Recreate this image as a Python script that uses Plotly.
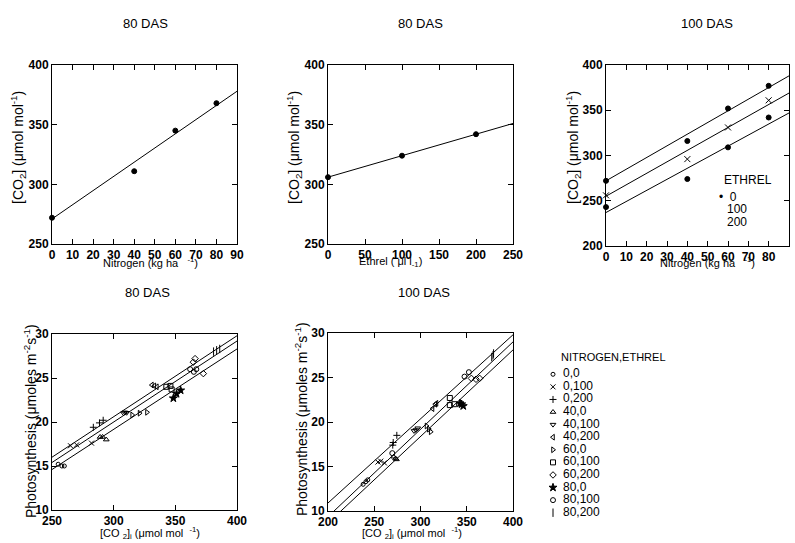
import plotly.graph_objects as go

W, H = 795, 543

# ---------------- data ----------------
# Panel 1: 80 DAS, [CO2] vs nitrogen
nitrogen_levels = [0, 40, 60, 80]
co2_n_80das = [272, 311, 345, 368]
fit1_x = [0, 90]
fit1_y = [271, 378]

# Panel 2: 80 DAS, [CO2] vs ethrel
ethrel_levels = [0, 100, 200]
co2_e_80das = [306, 324, 342]
fit2_x = [0, 250]
fit2_y = [306, 351]

# Panel 3: 100 DAS, [CO2] vs nitrogen for three ethrel levels
co2_e200_100das = [272, 316, 352, 377]
co2_e100_100das = [256, 296, 331, 361]
co2_e0_100das = [243, 274, 309, 342]
fit3_x = [0, 90]
fit3_top = [272, 388]
fit3_mid = [255, 369]
fit3_low = [237, 347]

# Bottom panels: photosynthesis vs [CO2]i, per nitrogen,ethrel treatment
treatments = ["0,0", "0,100", "0,200", "40,0", "40,100", "40,200",
              "60,0", "60,100", "60,200", "80,0", "80,100", "80,200"]
symbols = ["circle-open", "x-thin-open", "cross-thin-open", "triangle-up-open",
           "triangle-down-open", "triangle-left-open", "triangle-right-open",
           "square-open", "diamond-open", "star", "circle-open", "line-ns-open"]
sym_sizes = [4, 5, 5, 5, 5, 5, 5, 5, 5, 6, 5, 6]

ci_80 = [[255, 258, 260], [265, 270, 282], [283.5, 288.5, 291.5],
         [289, 291, 294], [308, 310.5, 309], [331, 333, 335],
         [315, 321, 327], [342.7, 346, 347], [364.6, 366, 372.7],
         [348.4, 351, 354.3], [362, 365, 367], [381, 383.5, 386]]
ps_80 = [[15.2, 15.0, 15.0], [17.3, 17.4, 17.6], [19.4, 19.9, 20.2],
         [18.3, 18.3, 18.0], [21.0, 21.05, 21.1], [24.2, 24.1, 24.0],
         [20.8, 21.0, 21.1], [24.0, 24.1, 23.7], [26.8, 27.2, 25.5],
         [22.7, 23.2, 23.6], [26.0, 25.7, 26.0], [28.0, 28.15, 28.3]]
fit4_x = [250, 400]
fit4_top = [16.0, 29.8]
fit4_mid = [15.4, 29.2]
fit4_low = [14.6, 28.3]

ci_100 = [[238, 241, 243], [254, 257, 261], [270, 270.5, 274.4],
          [271, 273, 274], [293, 295, 297], [313, 316, 317.3],
          [306.5, 309, 311], [331.7, 331.7, 336.4], [355, 360, 364],
          [342.7, 344.5, 346.2], [347.6, 352.3, 269.5], [377, 378.4, 379]]
ps_100 = [[13.0, 13.3, 13.5], [15.5, 15.6, 15.4], [17.4, 17.7, 18.5],
          [16.1, 15.9, 15.8], [19.0, 19.1, 19.3], [21.5, 22.0, 22.1],
          [19.55, 19.2, 18.9], [22.7, 21.9, 22.0], [24.9, 24.8, 24.9],
          [22.1, 22.0, 21.8], [25.1, 25.6, 16.5], [27.3, 27.5, 27.7]]
fit5_x = [200, 400]
fit5_top = [10.9, 29.8]
fit5_mid = [9.36, 29.0]
fit5_low = [8.64, 28.1]


# ---------------- helpers ----------------
def px_x(p):
    return p / W


def px_y(p):
    return 1 - p / H


fig = go.Figure()

line_style = dict(color="black", width=1)


def add_line(x, y, ax):
    fig.add_trace(go.Scatter(x=x, y=y, mode="lines", line=line_style,
                             xaxis="x" + ax, yaxis="y" + ax,
                             showlegend=False, hoverinfo="skip"))


def add_pts(x, y, ax, symbol="circle", size=5):
    fig.add_trace(go.Scatter(x=x, y=y, mode="markers",
                             marker=dict(symbol=symbol, size=size, color="black",
                                         line=dict(color="black", width=1)),
                             xaxis="x" + ax, yaxis="y" + ax, cliponaxis=False,
                             showlegend=False))


# panel 1
add_line(fit1_x, fit1_y, "")
add_pts(nitrogen_levels, co2_n_80das, "")
# panel 2
add_line(fit2_x, fit2_y, "2")
add_pts(ethrel_levels, co2_e_80das, "2")
# panel 3
for fy in (fit3_top, fit3_mid, fit3_low):
    add_line(fit3_x, fy, "3")
add_pts(nitrogen_levels, co2_e200_100das, "3")
add_pts(nitrogen_levels, co2_e100_100das, "3", symbol="x-thin-open", size=6)
add_pts(nitrogen_levels, co2_e0_100das, "3")
# panel 4
for fy in (fit4_top, fit4_mid, fit4_low):
    add_line(fit4_x, fy, "4")
for i in range(len(treatments)):
    add_pts(ci_80[i], ps_80[i], "4", symbol=symbols[i], size=sym_sizes[i])
# panel 5
for fy in (fit5_top, fit5_mid, fit5_low):
    add_line(fit5_x, fy, "5")
for i in range(len(treatments)):
    add_pts(ci_100[i], ps_100[i], "5", symbol=symbols[i], size=sym_sizes[i])

# legend panel (axis 6): one row per treatment
rows = list(range(len(treatments)))
for i in rows:
    fig.add_trace(go.Scatter(x=[0], y=[i], mode="markers",
                             marker=dict(symbol=symbols[i], size=sym_sizes[i], color="black",
                                         line=dict(color="black", width=1)),
                             xaxis="x6", yaxis="y6", cliponaxis=False, showlegend=False))
fig.add_trace(go.Scatter(x=[2] * len(rows), y=rows, mode="text", text=treatments,
                         textposition="middle right",
                         textfont=dict(family="Liberation Sans, Arial", size=12, color="black"),
                         xaxis="x6", yaxis="y6", cliponaxis=False, showlegend=False))

# ---------------- axes ----------------
tickfont = dict(family="Liberation Sans, Arial", size=12, color="black", weight="bold")


def axis(dom, rng, dtick, anchor):
    return dict(domain=dom, range=rng, dtick=dtick, tick0=rng[0], anchor=anchor,
                automargin=False,
                showgrid=False, zeroline=False, showline=True, linecolor="black",
                linewidth=1, mirror="ticks", ticks="inside", ticklen=5,
                tickwidth=1, tickcolor="black", tickfont=tickfont)


xd1 = [px_x(52), px_x(237)]
xd2 = [px_x(328), px_x(513)]
xd3 = [px_x(606), px_x(789)]
yd_top = [px_y(244), px_y(65)]
yd3 = [px_y(246), px_y(65)]
yd4 = [px_y(510), px_y(334)]
yd5 = [px_y(511), px_y(333)]

layout = dict(
    width=W, height=H, margin=dict(l=0, r=0, t=0, b=0, autoexpand=False),
    paper_bgcolor="white", plot_bgcolor="white", showlegend=False,
    font=dict(family="Liberation Sans, Arial", size=12, color="black"),
    xaxis=axis(xd1, [0, 90], 10, "y"),
    yaxis=axis(yd_top, [250, 400], 50, "x"),
    xaxis2=axis(xd2, [0, 250], 50, "y2"),
    yaxis2=axis(yd_top, [250, 400], 50, "x2"),
    xaxis3=axis(xd3, [0, 90], 10, "y3"),
    yaxis3=axis(yd3, [200, 400], 50, "x3"),
    xaxis4=axis(xd1, [250, 400], 50, "y4"),
    yaxis4=axis(yd4, [10, 30], 5, "x4"),
    xaxis5=axis(xd2, [200, 400], 50, "y5"),
    yaxis5=axis(yd5, [10, 30], 5, "x5"),
    xaxis6=dict(domain=[px_x(548), px_x(748)], range=[-1, 39], visible=False,
                anchor="y6", automargin=False),
    yaxis6=dict(domain=[px_y(519), px_y(368)], range=[11.5, -0.5], visible=False,
                anchor="x6", automargin=False),
)
fig.update_layout(**layout)

# ---------------- text ----------------
def ann(text, x, y, size=11, angle=0, xanchor="center"):
    fig.add_annotation(text=text, x=px_x(x), y=px_y(y), xref="paper", yref="paper",
                       showarrow=False, textangle=angle, xanchor=xanchor, yanchor="middle",
                       font=dict(family="Liberation Sans, Arial", size=size, color="black"))


for t, x, y in [("80 DAS", 145, 23), ("80 DAS", 420, 23), ("100 DAS", 707, 23),
                ("80 DAS", 147, 292), ("100 DAS", 424, 292)]:
    ann(t, x, y, size=13)

co2_title = "[CO<sub>2</sub>] (μmol mol<sup>-1</sup>)"
ann(co2_title, 18, 148, size=14, angle=-90)
ann(co2_title, 294, 148, size=14, angle=-90)
ann(co2_title, 573, 148, size=14, angle=-90)
ann("Nitrogen (kg ha   <sup>-1</sup>)", 150, 262)
ann("Ethrel ( μl l<sub>-1</sub>)", 390, 262)
ann("Nitrogen (kg ha   <sup>-1</sup>)", 707, 262)

ps_title = "Photosynthesis (μmoles m<sup>-2</sup>s<sup>-1</sup>)"
ann(ps_title, 30, 421, size=14, angle=-90)
ann(ps_title, 301, 419, size=14, angle=-90)
ci_title = "[CO <sub>2</sub>]<sub>i</sub> (μmol mol  <sup>-1</sup>)"
ann(ci_title, 150, 533)
ann(ci_title, 412, 533)

# ETHREL legend inside panel 3
ann("ETHREL", 722, 180, size=12, xanchor="left")
ann("•  0", 717, 197, size=12, xanchor="left")
ann("100", 725, 209, size=12, xanchor="left")
ann("200", 725, 222, size=12, xanchor="left")

# treatment legend title
ann("NITROGEN,ETHREL", 559, 357, size=11, xanchor="left")

fig.write_html("out.html", config={"displayModeBar": False},
               post_script="document.body.style.margin='0px';"
                           "document.body.style.overflow='hidden';")
